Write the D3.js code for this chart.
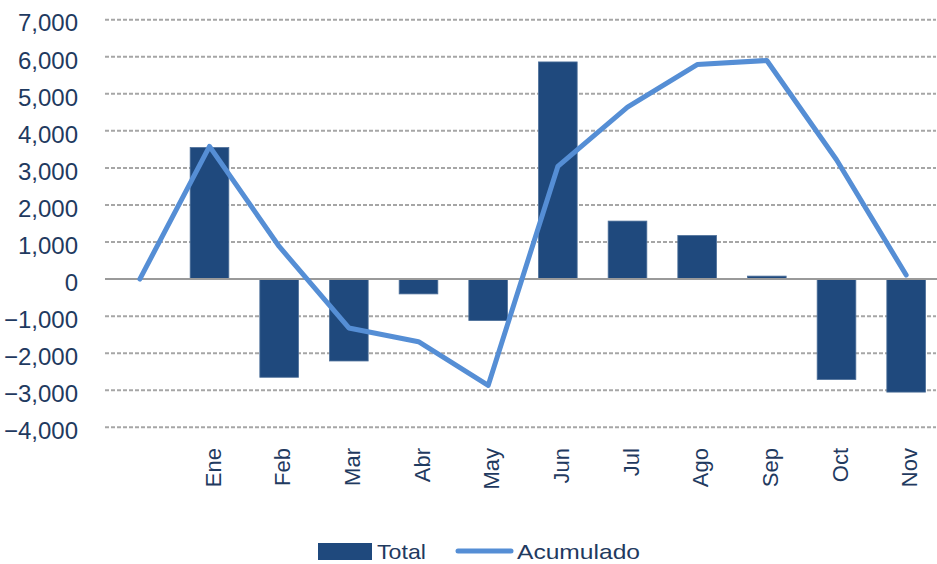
<!DOCTYPE html>
<html>
<head>
<meta charset="utf-8">
<script src="https://cdn.jsdelivr.net/npm/d3@7/dist/d3.min.js"></script>
<style>
  html, body { margin: 0; padding: 0; background: #ffffff; }
  svg { display: block; }
  text { font-family: "Liberation Sans", Arial, sans-serif; fill: #1f3a60; }
</style>
</head>
<body>
<svg id="chart" width="937" height="564"></svg>
<script>
// ---- data ----
const categories = ["", "Ene", "Feb", "Mar", "Abr", "May", "Jun", "Jul", "Ago", "Sep", "Oct", "Nov"];
const totalValues = [null, 3550, -2650, -2210, -400, -1120, 5860, 1565, 1175, 80, -2710, -3050];
const acumuladoValues = [0, 3580, 880, -1320, -1690, -2870, 3040, 4640, 5790, 5900, 3220, 110];
const yTicks = [-4000, -3000, -2000, -1000, 0, 1000, 2000, 3000, 4000, 5000, 6000, 7000];
const seriesNames = ["Total", "Acumulado"];

// ---- layout ----
const svg = d3.select("#chart");
const plotLeft = 105, plotRight = 941, gridRight = 936;
const x = d3.scaleBand().domain(categories).range([plotLeft, plotRight])
  .paddingInner(0.445).paddingOuter(0.2225);
const y = d3.scaleLinear().domain([-4000, 7000]).range([427.3, 19.7]);
const cx = c => x(c) + x.bandwidth() / 2;

const barColor = "#1f497d";
const lineColor = "#558ed5";

// gridlines
svg.append("g").selectAll("line")
  .data(yTicks.filter(t => t !== 0))
  .join("line")
  .attr("x1", plotLeft).attr("x2", gridRight)
  .attr("y1", d => y(d)).attr("y2", d => y(d))
  .attr("stroke", "#a6a6a6").attr("stroke-width", 2)
  .attr("stroke-dasharray", "4,2");

// y axis labels
const yAxis = d3.axisLeft(y).tickValues(yTicks).tickSize(0).tickPadding(0)
  .tickFormat(d3.format(","));
const gy = svg.append("g").attr("transform", "translate(78,0)").call(yAxis);
gy.select(".domain").remove();
gy.selectAll("text")
  .attr("x", 0).attr("dy", "0.47em")
  .style("font-size", "24px")
  .style("font-family", "'Liberation Sans', Arial, sans-serif")
  .attr("fill", "#1f3a60");

// bars
svg.append("g").selectAll("rect")
  .data(categories.map((c, i) => ({c, v: totalValues[i]})).filter(d => d.v !== null))
  .join("rect")
  .attr("x", d => x(d.c))
  .attr("width", x.bandwidth())
  .attr("y", d => Math.min(y(d.v), y(0)))
  .attr("height", d => Math.abs(y(d.v) - y(0)))
  .attr("fill", barColor)
  .attr("stroke", "#4d6f99").attr("stroke-width", 0.8);

// zero line
svg.append("line")
  .attr("x1", plotLeft).attr("x2", 937)
  .attr("y1", y(0)).attr("y2", y(0))
  .attr("stroke", "#9a9a9a").attr("stroke-width", 2);

// cumulative line
const line = d3.line().x((d, i) => cx(categories[i])).y(d => y(d));
svg.append("path")
  .datum(acumuladoValues)
  .attr("d", line)
  .attr("fill", "none")
  .attr("stroke", lineColor)
  .attr("stroke-width", 5)
  .attr("stroke-linejoin", "round")
  .attr("stroke-linecap", "round");

// x axis labels (rotated)
const xAxis = d3.axisBottom(x).tickSize(0).tickPadding(0);
const gx = svg.append("g").call(xAxis);
gx.select(".domain").remove();
gx.selectAll(".tick").attr("transform", d => `translate(${cx(d)},448)`);
gx.selectAll("text")
  .attr("transform", "rotate(-90)")
  .attr("x", 0).attr("y", 11).attr("dy", 0)
  .attr("text-anchor", "end")
  .style("font-size", "22px")
  .style("font-family", "'Liberation Sans', Arial, sans-serif")
  .attr("fill", "#1f3a60");

// legend
const lg = svg.append("g");
lg.append("rect").attr("x", 318).attr("y", 543).attr("width", 54).attr("height", 17)
  .attr("fill", barColor);
lg.append("text").attr("x", 377).attr("y", 559).text(seriesNames[0])
  .style("font-size", "21px").attr("textLength", 49).attr("lengthAdjust", "spacingAndGlyphs");
lg.append("line").attr("x1", 458).attr("x2", 511).attr("y1", 551).attr("y2", 551)
  .attr("stroke", lineColor).attr("stroke-width", 5).attr("stroke-linecap", "round");
lg.append("text").attr("x", 517).attr("y", 559).text(seriesNames[1])
  .style("font-size", "21px").attr("textLength", 123).attr("lengthAdjust", "spacingAndGlyphs");
</script>
</body>
</html>
